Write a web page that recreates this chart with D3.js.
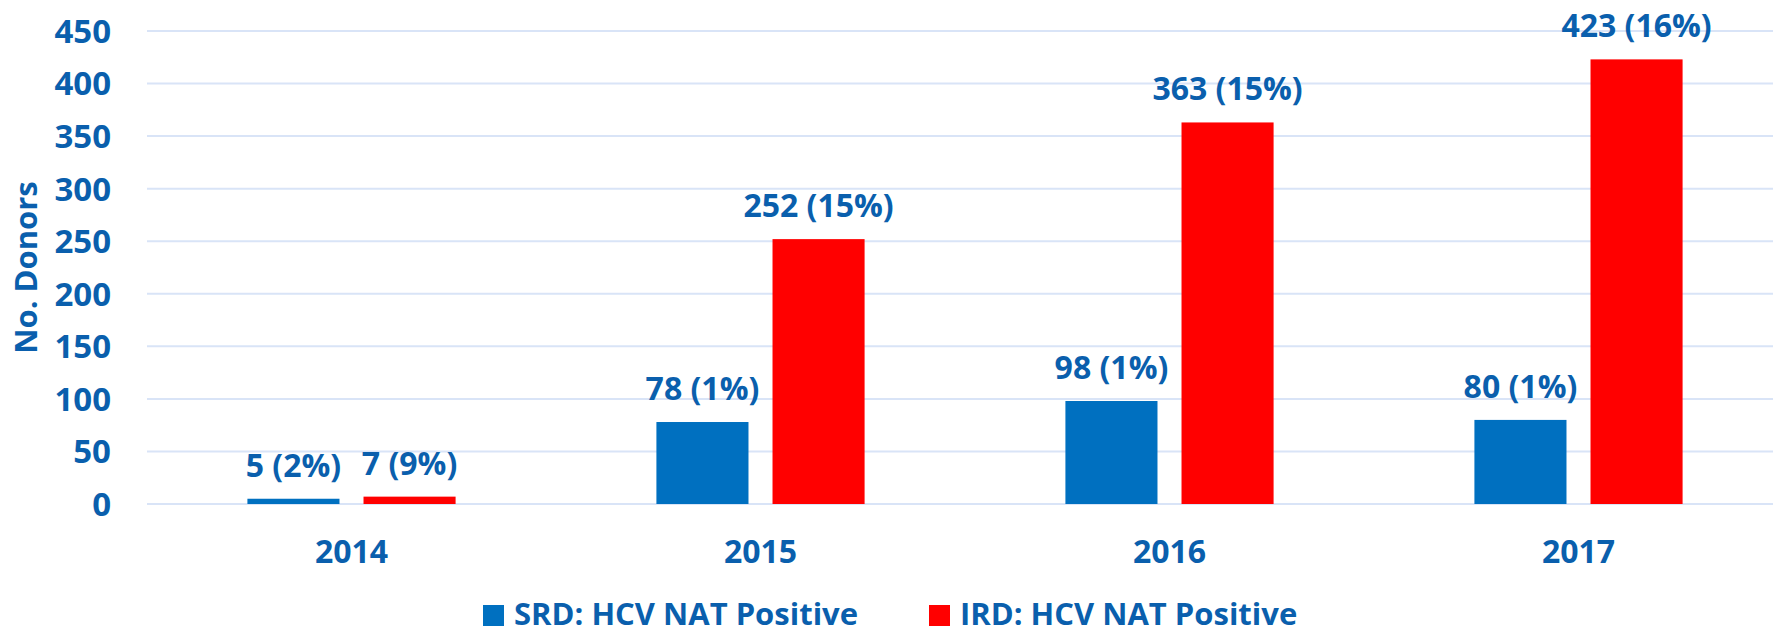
<!DOCTYPE html>
<html lang="en">
<head>
    <meta charset="UTF-8">
    <script src="https://d3js.org/d3.v7.min.js"></script>
    <title>HCV NAT Positive Donors</title>
    <style>
        body { margin: 0; background: #fff; overflow: hidden; }
        svg { display: block; font-family: "Open Sans", sans-serif; font-weight: bold; }
    </style>
</head>
<body>
    <div id="chart"></div>

    <script type="text/javascript">
        const years = ["2014", "2015", "2016", "2017"];
        const seriesNames = ["SRD: HCV NAT Positive", "IRD: HCV NAT Positive"];
        const srdValues = [5, 78, 98, 80];
        const srdPct = ["2%", "1%", "1%", "1%"];
        const irdValues = [7, 252, 363, 423];
        const irdPct = ["9%", "15%", "15%", "16%"];
        const yTicks = [0, 50, 100, 150, 200, 250, 300, 350, 400, 450];

        const width = 1773;
        const height = 634;
        const textColor = "#0a5fad";
        const colors = ["#0070c0", "#ff0000"];

        const plotLeft = 147, plotRight = 1783, plotTop = 31, plotBottom = 504;

        const svg = d3.select("#chart")
            .append("svg")
            .attr("width", width)
            .attr("height", height);

        const data = years.map((yr, i) => ({
            year: yr,
            values: [
                { key: 0, value: srdValues[i], pct: srdPct[i] },
                { key: 1, value: irdValues[i], pct: irdPct[i] }
            ]
        }));

        const x0 = d3.scaleBand()
            .domain(years)
            .range([plotLeft, plotRight])
            .paddingInner(0.491)
            .paddingOuter(0.2455);

        const x1 = d3.scaleBand()
            .domain([0, 1])
            .range([0, x0.bandwidth()])
            .paddingInner(0.207);

        const y = d3.scaleLinear()
            .domain([0, 450])
            .range([plotBottom, plotTop]);

        // gridlines
        svg.selectAll(".grid")
            .data(yTicks)
            .enter()
            .append("line")
            .attr("class", "grid")
            .attr("x1", plotLeft)
            .attr("x2", width)
            .attr("y1", d => y(d))
            .attr("y2", d => y(d))
            .attr("stroke", "#d9e4f7")
            .attr("stroke-width", 2);

        // y tick labels
        svg.selectAll(".ytick")
            .data(yTicks)
            .enter()
            .append("text")
            .attr("class", "ytick")
            .attr("x", 111)
            .attr("y", d => y(d))
            .attr("dy", "0.36em")
            .attr("text-anchor", "end")
            .style("font-size", "33px")
            .style("fill", textColor)
            .text(d => d);

        // y axis title
        svg.append("text")
            .attr("transform", `translate(37, ${(plotTop + plotBottom) / 2}) rotate(-90)`)
            .attr("text-anchor", "middle")
            .style("font-size", "31px")
            .style("fill", textColor)
            .text("No. Donors");

        const groups = svg.selectAll(".group")
            .data(data)
            .enter()
            .append("g")
            .attr("class", "group")
            .attr("transform", d => `translate(${x0(d.year)}, 0)`);

        groups.selectAll("rect")
            .data(d => d.values)
            .enter()
            .append("rect")
            .attr("x", d => x1(d.key))
            .attr("width", x1.bandwidth())
            .attr("y", d => y(d.value))
            .attr("height", d => y(0) - y(d.value))
            .attr("fill", d => colors[d.key]);

        groups.selectAll(".value-label")
            .data(d => d.values)
            .enter()
            .append("text")
            .attr("class", "value-label")
            .attr("x", d => x1(d.key) + x1.bandwidth() / 2)
            .attr("y", d => y(d.value) - 22)
            .attr("text-anchor", "middle")
            .style("font-size", "32px")
            .style("fill", textColor)
            .text(d => `${d.value} (${d.pct})`);

        // category labels
        svg.selectAll(".xlabel")
            .data(years)
            .enter()
            .append("text")
            .attr("class", "xlabel")
            .attr("x", d => x0(d) + x0.bandwidth() / 2)
            .attr("y", 563)
            .attr("text-anchor", "middle")
            .style("font-size", "32px")
            .style("fill", textColor)
            .text(d => d);

        // legend
        const legendX = [483, 929];
        const legend = svg.selectAll(".legend")
            .data(seriesNames)
            .enter()
            .append("g")
            .attr("class", "legend")
            .attr("transform", (d, i) => `translate(${legendX[i]}, 605)`);

        legend.append("rect")
            .attr("width", 21)
            .attr("height", 21)
            .attr("fill", (d, i) => colors[i]);

        legend.append("text")
            .attr("x", 31)
            .attr("y", 20)
            .style("font-size", "31px")
            .style("fill", textColor)
            .text(d => d);
    </script>
</body>
</html>
